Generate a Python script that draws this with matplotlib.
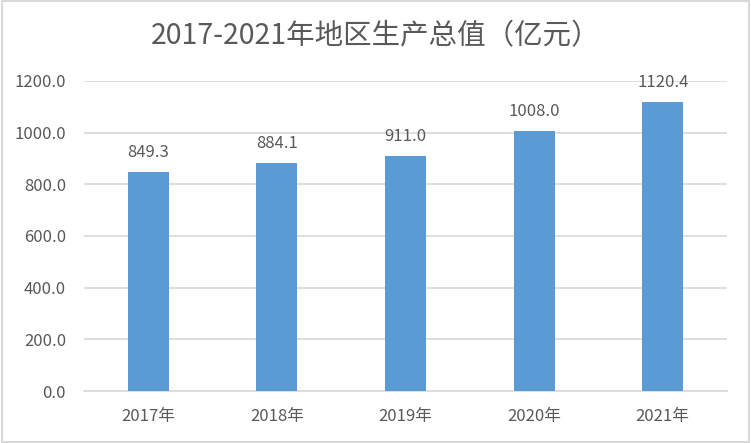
from matplotlib import pyplot as plt
from matplotlib.patches import Rectangle
import numpy as np

plt.rcParams['font.family'] = ['Noto Sans CJK SC', 'DejaVu Sans']

years = ['2017年', '2018年', '2019年', '2020年', '2021年']
gdp = [849.3, 884.1, 911.0, 1008.0, 1120.4]
y_ticks = [0, 200, 400, 600, 800, 1000, 1200]

text_color = '#595959'
bar_color = '#5B9BD5'
grid_color = '#D9D9D9'

fig = plt.figure(figsize=(7.51, 4.43), dpi=100)
ax = fig.add_axes([84 / 751, (443 - 391) / 443, (727 - 84) / 751, (391 - 81) / 443])

x = np.arange(len(years))
bars = ax.bar(x, gdp, width=0.32, color=bar_color, zorder=3)

for xi, v in zip(x, gdp):
    ax.annotate(f'{v:.1f}', (xi, v), xytext=(0, 14), textcoords='offset points',
                ha='center', va='center', fontsize=12, color=text_color, zorder=4)

ax.set_xlim(-0.5, len(years) - 0.5)
ax.set_ylim(0, 1200)
ax.set_yticks(y_ticks)
ax.set_yticklabels([f'{t:.1f}' for t in y_ticks])
ax.set_xticks(x)
ax.set_xticklabels(years)
ax.tick_params(axis='both', length=0, labelsize=12, colors=text_color)
ax.tick_params(axis='x', pad=12)
ax.tick_params(axis='y', pad=13)

ax.yaxis.grid(True, color=grid_color, linewidth=1.2, zorder=0)
for side in ['top', 'right', 'left']:
    ax.spines[side].set_visible(False)
ax.spines['bottom'].set_color(grid_color)
ax.spines['bottom'].set_linewidth(1.2)

fig.text(376 / 751, 1 - 36 / 443, '2017-2021年地区生产总值（亿元）', ha='center', va='center',
         fontsize=20.5, color=text_color)

fig.patches.append(Rectangle((0.002, 0.003), 0.995, 0.994, transform=fig.transFigure,
                             fill=False, edgecolor=grid_color, linewidth=1.5))

fig.savefig('out.png', dpi=100)
